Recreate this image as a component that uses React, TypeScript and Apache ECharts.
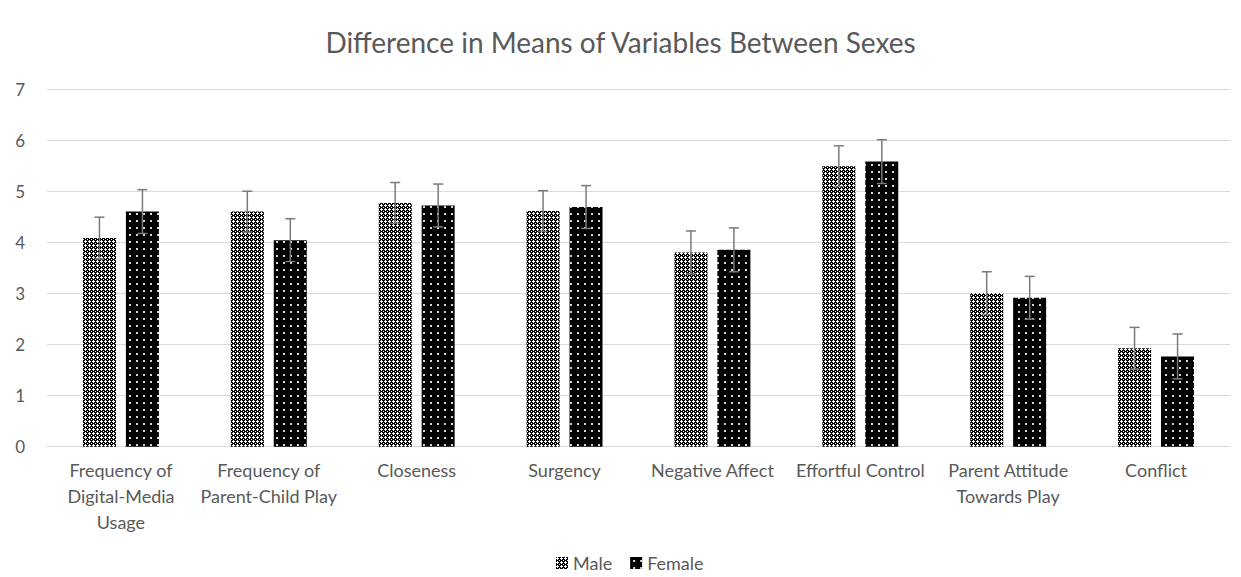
import React, { useEffect, useRef } from "react";
import * as echarts from "echarts";

const categories = [
  "Frequency of\nDigital-Media\nUsage",
  "Frequency of\nParent-Child Play",
  "Closeness",
  "Surgency",
  "Negative Affect",
  "Effortful Control",
  "Parent Attitude\nTowards Play",
  "Conflict",
];
const maleMeans = [4.09, 4.61, 4.78, 4.62, 3.81, 5.5, 3.01, 1.93];
const femaleMeans = [4.61, 4.05, 4.73, 4.7, 3.86, 5.59, 2.92, 1.77];
const maleErr = [0.41, 0.4, 0.4, 0.4, 0.42, 0.4, 0.42, 0.41];
const femaleErr = [0.43, 0.42, 0.42, 0.42, 0.43, 0.43, 0.42, 0.44];
const yTicks = [0, 1, 2, 3, 4, 5, 6, 7];

const TEXT = "#595959";
const FONT = "Lato, 'Open Sans', sans-serif";

function makeMalePattern(): HTMLCanvasElement {
  const c = document.createElement("canvas");
  c.width = 4;
  c.height = 4;
  const ctx = c.getContext("2d")!;
  ctx.fillStyle = "#000";
  ctx.fillRect(0, 0, 4, 4);
  ctx.fillStyle = "#fff";
  ctx.fillRect(1, 0, 1, 1);
  ctx.fillRect(0, 1, 3, 1);
  ctx.fillRect(1, 2, 1, 1);
  ctx.fillRect(3, 3, 1, 1);
  return c;
}

function makeFemalePattern(): HTMLCanvasElement {
  const c = document.createElement("canvas");
  c.width = 7;
  c.height = 7;
  const ctx = c.getContext("2d")!;
  ctx.fillStyle = "#000";
  ctx.fillRect(0, 0, 7, 7);
  ctx.fillStyle = "#d8d8d8";
  ctx.fillRect(3, 3, 2, 2);
  return c;
}

export default function App() {
  const ref = useRef<HTMLDivElement>(null);

  useEffect(() => {
    document.body.style.margin = "0";
    const chart = echarts.init(ref.current!, null, { renderer: "svg" });
    const malePat = { image: makeMalePattern(), repeat: "repeat" } as any;
    const femalePat = { image: makeFemalePattern(), repeat: "repeat" } as any;

    const BAR_W = 33;
    const OFFSET = 21.5;

    const errSeries = (name: string, means: number[], errs: number[], off: number) => ({
      type: "custom",
      name,
      z: 10,
      data: means.map((m, i) => [i, m, errs[i]]),
      renderItem: (params: any, api: any) => {
        const i = api.value(0);
        const m = api.value(1);
        const e = api.value(2);
        const top = api.coord([i, m + e]);
        const bot = api.coord([i, m - e]);
        const x = top[0] + off;
        const style = { stroke: "#7a7a7a", lineWidth: 1.5 };
        return {
          type: "group",
          children: [
            { type: "line", shape: { x1: x, y1: top[1], x2: x, y2: bot[1] }, style },
            { type: "line", shape: { x1: x - 5, y1: top[1], x2: x + 5, y2: top[1] }, style },
            { type: "line", shape: { x1: x - 5, y1: bot[1], x2: x + 5, y2: bot[1] }, style },
          ],
        };
      },
    });

    chart.setOption({
      animation: false,
      backgroundColor: "#fff",
      title: {
        text: "Difference in Means of Variables Between Sexes",
        left: "center",
        top: 23,
        textStyle: { color: TEXT, fontSize: 28, fontWeight: "normal", fontFamily: FONT },
      },
      legend: {
        data: ["Male", "Female"],
        top: 554,
        left: 556,
        padding: 0,
        itemWidth: 12,
        itemHeight: 12,
        itemGap: 18,
        icon: "rect",
        textStyle: { color: TEXT, fontSize: 18, fontFamily: FONT },
      },
      grid: { left: 47, right: 11, top: 89.7, bottom: 130.3, containLabel: false },
      xAxis: {
        type: "category",
        data: categories,
        axisLine: { lineStyle: { color: "#d9d9d9", width: 1 } },
        axisTick: { show: false },
        axisLabel: {
          color: TEXT,
          fontSize: 18,
          fontFamily: FONT,
          lineHeight: 26,
          margin: 10,
          interval: 0,
        },
      },
      yAxis: {
        type: "value",
        min: yTicks[0],
        max: yTicks[yTicks.length - 1],
        interval: 1,
        axisLine: { show: false },
        axisTick: { show: false },
        splitLine: { lineStyle: { color: "#d9d9d9", width: 1 } },
        axisLabel: { color: TEXT, fontSize: 17, fontFamily: FONT, margin: 22 },
      },
      series: [
        {
          type: "bar",
          name: "Male",
          data: maleMeans,
          barWidth: BAR_W,
          barGap: "30%",
          itemStyle: { color: malePat },
        },
        {
          type: "bar",
          name: "Female",
          data: femaleMeans,
          barWidth: BAR_W,
          itemStyle: { color: femalePat },
        },
        errSeries("MaleErr", maleMeans, maleErr, -OFFSET),
        errSeries("FemaleErr", femaleMeans, femaleErr, OFFSET),
      ],
    } as any);

    return () => chart.dispose();
  }, []);

  return <div ref={ref} style={{ width: 1241, height: 577 }} />;
}
